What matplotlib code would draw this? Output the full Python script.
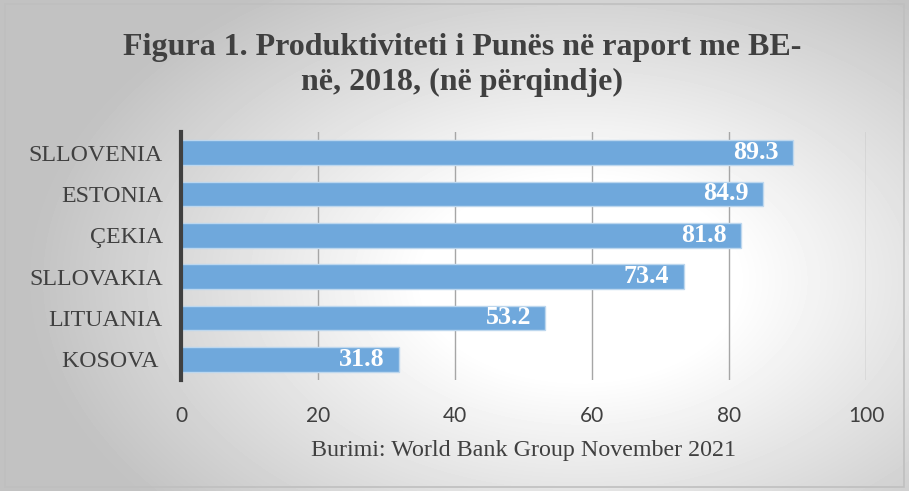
import numpy as np
import matplotlib.pyplot as plt
from matplotlib.patches import Rectangle

countries = ["SLLOVENIA", "ESTONIA", "ÇEKIA", "SLLOVAKIA", "LITUANIA", "KOSOVA "]
values = [89.3, 84.9, 81.8, 73.4, 53.2, 31.8]
xticks = [0, 20, 40, 60, 80, 100]

W, H = 909, 491
fig = plt.figure(figsize=(W / 100, H / 100), dpi=100)

# radial gradient background
bg = fig.add_axes([0, 0, 1, 1], zorder=-10)
yy, xx = np.mgrid[0:H, 0:W]
d = np.sqrt(((xx - 580) / 520.0) ** 2 + ((yy - 280) / 330.0) ** 2)
shade = np.clip(1.0 - 0.22 * np.clip(d - 0.3, 0, None) / 0.7, 0.76, 1.0)
bg.imshow(shade, cmap="gray", vmin=0, vmax=1, aspect="auto", extent=[0, W, H, 0])
bg.add_patch(Rectangle((5, 4), W - 10, H - 8, fill=False, edgecolor="#bfbfbf", lw=1.2))
bg.set_xlim(0, W)
bg.set_ylim(H, 0)
bg.axis("off")

ax = fig.add_axes([181 / W, 1 - 380 / H, (866 - 181) / W, (380 - 132) / H])
ax.patch.set_alpha(0)

y = np.arange(len(countries))
ax.barh(y, values, height=0.6, color="#6fa8dc", edgecolor="#bdd7ee", linewidth=1, zorder=3)
for yi, v in zip(y, values):
    ax.text(v - 2.1, yi, f"{v:.1f}", ha="right", va="center", color="white",
            fontsize=18.7, fontweight="bold", family="Liberation Serif", zorder=4)

ax.set_ylim(len(countries) - 0.5, -0.5)
ax.set_xlim(0, 100)
ax.set_yticks(y)
ax.set_yticklabels(countries, family="Liberation Serif", fontsize=17.2, color="#404040")
ax.set_xticks(xticks)
ax.set_xticklabels([str(t) for t in xticks], family="Lato", fontsize=15, color="#404040")
ax.tick_params(axis="y", length=0, pad=13)
ax.tick_params(axis="x", length=0, pad=19)
ax.grid(axis="x", color="#a6a6a6", lw=1, zorder=0)
for s in ["top", "right", "bottom"]:
    ax.spines[s].set_visible(False)
ax.spines["left"].set_color("#404040")
ax.spines["left"].set_linewidth(3)
ax.spines["left"].set_zorder(5)

ax.set_xlabel("Burimi: World Bank Group November 2021", family="Liberation Serif",
              fontsize=17.3, color="#404040", labelpad=10)

fig.text(462 / W, 1 - 65 / H, "Figura 1. Produktiviteti i Punës në raport me BE-\nnë, 2018, (në përqindje)",
         ha="center", va="center", family="Liberation Serif", fontweight="bold",
         fontsize=23, color="#404040", linespacing=1.3)

fig.savefig("out.png", dpi=100)
